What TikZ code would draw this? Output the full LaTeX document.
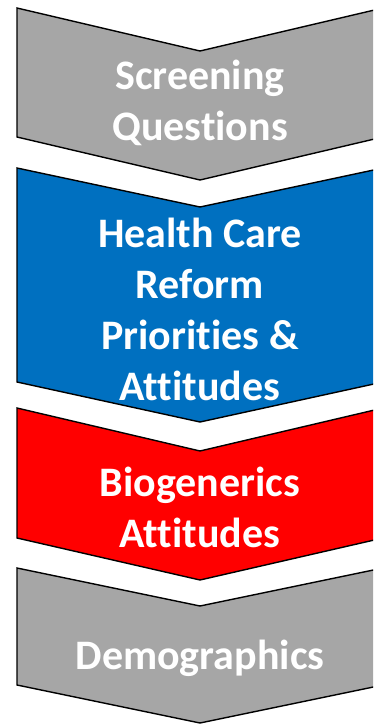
\documentclass[tikz,border=0pt]{standalone}
\usepackage{fontspec}
\setmainfont{Carlito}[Ligatures={NoCommon}]
\usetikzlibrary{positioning}
\definecolor{chevgray}{HTML}{A6A6A6}
\definecolor{chevblue}{HTML}{0070C0}
\definecolor{chevred}{HTML}{FF0000}
\begin{document}
\begin{tikzpicture}[x=1pt,y=-1pt,
    chev/.style={draw=black, line width=1.4pt, line join=miter},
    lbl/.style={text=white, font=\fontsize{42}{51}\selectfont\bfseries, align=center, anchor=base}]
                \useasboundingbox (0,0) rectangle (373,724);
                \clip (0,0) rectangle (373,724);

                %Chevrons
                \draw[chev, fill=chevgray] (17,8) -- (200,51) -- (383,8) -- (383,137) -- (200,180) -- (17,137) -- cycle;
                \draw[chev, fill=chevblue] (17,168) -- (200,207) -- (383,168) -- (383,382) -- (200,422) -- (17,382) -- cycle;
                \draw[chev, fill=chevred] (17,408) -- (200,451) -- (383,408) -- (383,538) -- (200,580) -- (17,538) -- cycle;
                \draw[chev, fill=chevgray] (17,568) -- (200,606) -- (383,568) -- (383,685) -- (200,723) -- (17,685) -- cycle;

                %Labels
                \node[lbl] at (200,140) (screening) {Screening\\Questions};
                \node[lbl] at (200,400) (reform)    {Health Care\\Reform\\Priorities \&\\Attitudes};
                \node[lbl] at (200,547) (biogen)    {Biogenerics\\Attitudes};
                \node[lbl] at (200,669) (demo)      {Demographics};
            \end{tikzpicture}
\end{document}
